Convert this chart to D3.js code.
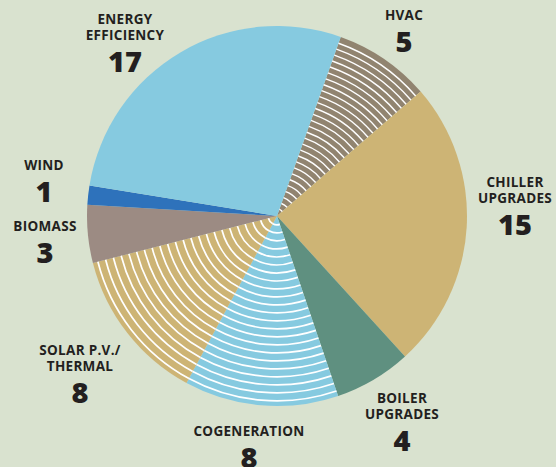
<!DOCTYPE html>
<html lang="en">
<head>
  <meta charset="UTF-8">
  <title>Projects by type</title>
  <script src="https://d3js.org/d3.v7.min.js"></script>
  <style>
    body { margin: 0; background: #d9e2cf; }
    svg { display: block; font-family: "Open Sans", "Noto Sans", sans-serif; }
    .name { font-size: 13.5px; font-weight: 700; fill: #231f20; text-anchor: middle; letter-spacing: 0.3px; }
    .num { font-size: 29px; font-weight: 800; fill: #231f20; text-anchor: middle; }
  </style>
</head>
<body>
  <div id="chart"></div>
  <script>
    // slices clockwise, starting just right of 12 o'clock
    const categories = ["HVAC", "CHILLER UPGRADES", "BOILER UPGRADES", "COGENERATION",
                        "SOLAR P.V./ THERMAL", "BIOMASS", "WIND", "ENERGY EFFICIENCY"];
    const values = [5, 15, 4, 8, 8, 3, 1, 17];
    const colors = ["#918470", "#cdb475", "#5f9080", "#86cae0",
                    "#cdb475", "#9c8b83", "#2e72bb", "#86cae0"];
    const striped = [true, false, false, true, true, false, false, false];

    // label lines and where they sit
    const labelLines = [["HVAC"], ["CHILLER", "UPGRADES"], ["BOILER", "UPGRADES"], ["COGENERATION"],
                        ["SOLAR P.V./", "THERMAL"], ["BIOMASS"], ["WIND"], ["ENERGY", "EFFICIENCY"]];
    const labelPos = [[404, 20], [515, 187], [402, 403], [249, 436],
                      [80, 355], [45, 231], [44, 170], [125, 24]];

    const W = 556, H = 467;
    const cx = 277, cy = 216, R = 190;

    const svg = d3.select("#chart").append("svg")
      .attr("width", W).attr("height", H);

    svg.append("rect").attr("width", W).attr("height", H).attr("fill", "#d9e2cf");

    const start = 19.6 * Math.PI / 180;
    const pie = d3.pie().sort(null).value(d => d.v)
      .startAngle(start).endAngle(start + 2 * Math.PI);

    const data = categories.map((c, i) => ({ c, v: values[i], color: colors[i], striped: striped[i], i }));
    const arcs = pie(data);

    const g = svg.append("g").attr("transform", `translate(${cx},${cy})`);
    const arc = d3.arc().innerRadius(0).outerRadius(R);

    g.selectAll("path.slice")
      .data(arcs)
      .enter()
      .append("path")
      .attr("class", "slice")
      .attr("d", arc)
      .attr("fill", d => d.data.color);

    // concentric white rings inside the striped slices
    arcs.filter(d => d.data.striped).forEach(d => {
      const step = d.data.c === "HVAC" ? 6.3 : 8;
      const lw = d.data.c === "HVAC" ? 1.4 : 1.7;
      const radii = d3.range(step, R - 2, step);
      g.selectAll(null)
        .data(radii)
        .enter()
        .append("path")
        .attr("d", r => d3.arc().innerRadius(r).outerRadius(r + lw)
          .startAngle(d.startAngle).endAngle(d.endAngle)())
        .attr("fill", "#ffffff");
    });

    // labels
    labelLines.forEach((lines, i) => {
      const [x, y] = labelPos[i];
      lines.forEach((t, k) => {
        svg.append("text").attr("class", "name")
          .attr("x", x).attr("y", y + k * 15.5)
          .text(t);
      });
      svg.append("text").attr("class", "num")
        .attr("x", x).attr("y", y + (lines.length - 1) * 15.5 + 32)
        .text(values[i]);
    });
  </script>
</body>
</html>
